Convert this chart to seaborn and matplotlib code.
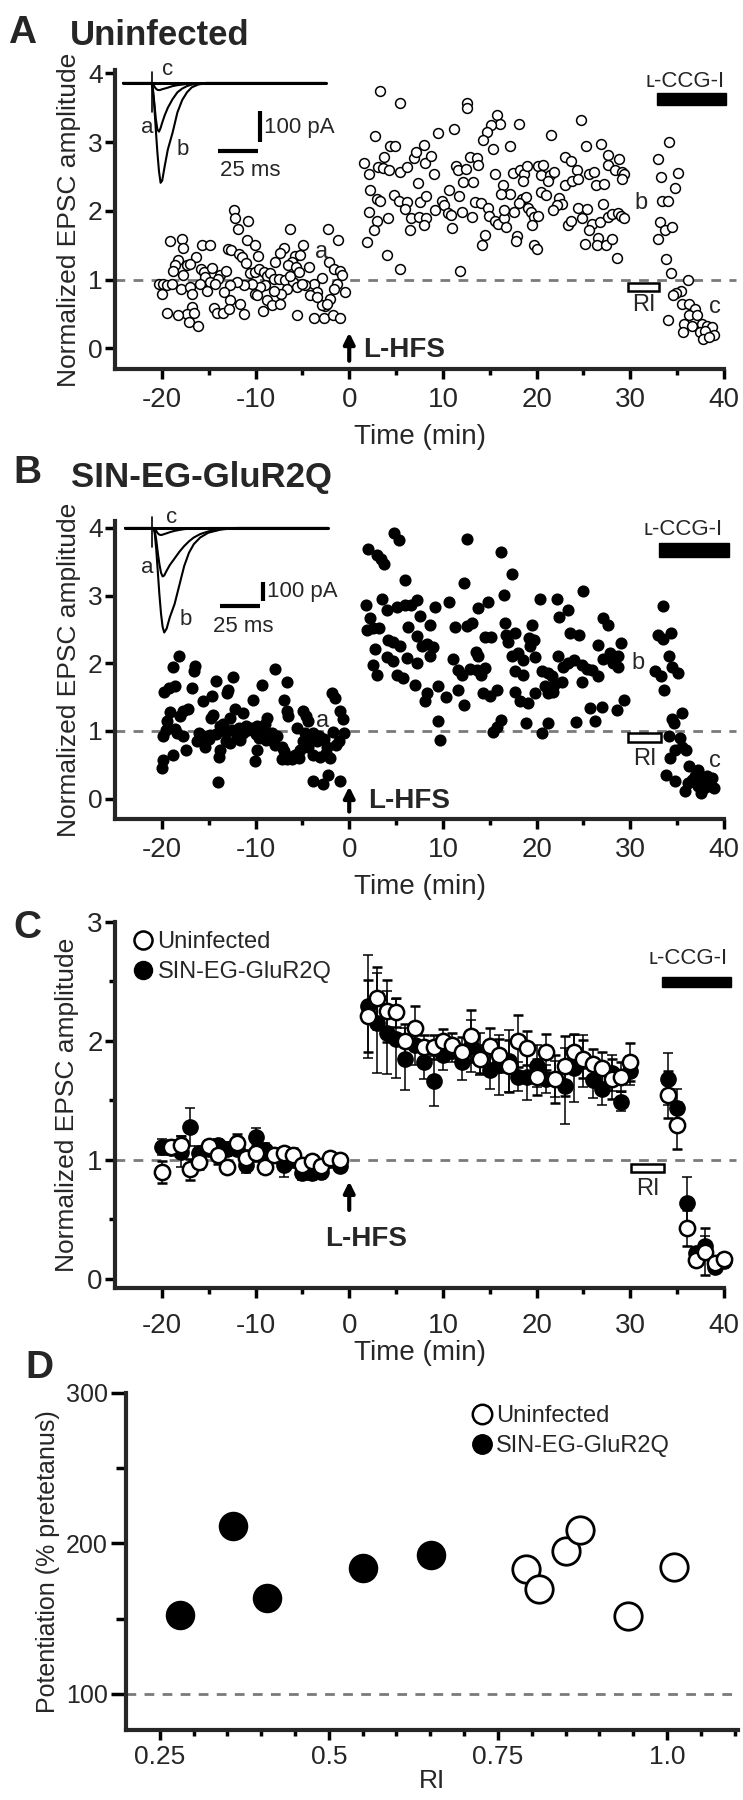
import numpy as np
import pandas as pd
import seaborn as sns
import matplotlib
matplotlib.use("Agg")
from matplotlib import pyplot as plt
from matplotlib.lines import Line2D
from matplotlib.patches import Rectangle
from matplotlib.ticker import FixedLocator

# ---------------------------------------------------------------------------
# Panel A: uninfected cell, normalized EPSC amplitude per sweep
a_time = [
    -19.17, -17.89, -17.74, -15.72, -14.90, -12.34, -12.23, -11.91, -10.81, -10.91,
    -10.02, -12.98, -12.62, -11.77, -11.41, -11.05, -9.77, -6.29, -2.30, -1.16,
    -4.93, -6.93, -7.42, -7.89, -5.82, -5.22, -6.11, -6.53, -5.65, -16.32,
    -18.31, -18.63, -18.81, -17.32, -16.96, -17.74, -15.82, -15.54, -15.43, -14.65,
    -13.76, -14.04, -13.12, -14.83, -15.89, -14.29, -15.18, -20.34, -19.88, -19.45,
    -18.92, -19.99, -17.96, -16.96, -16.78, -10.56, -10.02, -9.67, -9.06, -8.78,
    -8.49, -8.07, -7.53, -6.82, -6.00, -6.36, -5.40, -4.33, -2.91, -2.19,
    -1.59, -0.95, -0.77, -1.30, -1.66, -0.41, -2.02, -2.55, -2.91, -3.80,
    -3.44, -4.15, -4.69, -5.57, -5.04, -6.64, -7.28, -8.07, -8.96, -9.49,
    -10.02, -10.38, -11.27, -11.98, -12.69, -9.84, -8.78, -8.24, -7.35, -12.69,
    -11.62, -13.40, -14.47, -14.11, -13.47, -12.87, -11.27, -16.78, -17.32, -16.61,
    -19.45, -18.31, -17.14, -16.18, -9.20, -5.57, -3.80, -2.73, -1.73, -0.95,
    -3.44, -2.37,
    3.32, 5.39, 2.79, 9.48, 4.32, 4.92, 3.68, 1.61, 3.04, 3.61,
    4.21, 2.08, 5.46, 6.17, 6.88, 7.17, 7.95, 8.13, 8.73, 9.02,
    2.26, 2.97, 3.32, 4.75, 5.28, 6.17, 7.59, 8.23, 7.31, 2.08,
    2.97, 4.11, 5.99, 6.59, 7.41, 8.23, 7.95, 9.19, 2.61, 6.52,
    1.90, 4.03, 5.39,
    12.53, 12.60, 15.73, 16.09, 15.13, 14.66, 14.31, 15.38, 17.15, 18.11,
    11.21, 21.53, 24.70, 25.23, 26.87, 12.89, 13.60, 13.77, 11.36, 11.64,
    12.42, 15.55, 17.51, 18.22, 18.68, 18.93, 18.58, 20.18, 20.71, 20.46,
    21.42, 21.89, 21.25, 23.02, 23.66, 24.27, 25.59, 26.15, 27.65, 28.79,
    27.58, 28.36, 29.07, 29.36, 29.14, 12.17, 13.24, 10.64, 11.71, 16.44,
    17.15, 16.19, 18.47, 18.83, 20.46, 20.96, 22.38, 22.67, 22.13, 21.78,
    23.02, 23.74, 24.38, 26.30, 27.22, 9.93, 10.15, 10.57, 10.86, 12.07,
    13.06, 13.42, 14.06, 14.77, 14.91, 15.55, 15.91, 16.55, 16.69, 17.62,
    16.55, 18.11, 19.04, 19.40, 19.75, 19.47, 20.11, 23.38, 23.66, 24.38,
    24.80, 25.34, 25.94, 25.59, 26.76, 27.12, 27.65, 28.08, 28.65, 29.00,
    29.36, 11.00, 14.49, 14.20, 17.87, 17.76, 19.75, 20.00, 25.16, 26.51,
    26.40, 27.36, 28.08, 28.54, 11.82,
    34.12, 32.98, 33.27, 35.12, 34.76, 33.41, 33.98, 33.16, 33.70, 34.48,
    32.91, 33.77, 34.34, 36.19, 35.40, 34.83, 34.59, 35.55, 36.26, 36.90,
    36.26, 37.08, 34.05, 35.76, 36.54, 37.61, 38.14, 38.75, 35.65, 37.43,
    37.97, 38.96, 37.79, 38.39,
]
a_amp = [
    1.56, 1.59, 1.46, 1.51, 1.50, 2.01, 1.89, 1.73, 1.85, 1.57,
    1.50, 1.44, 1.43, 1.38, 1.33, 1.24, 1.35, 1.73, 1.73, 1.58,
    1.50, 1.46, 1.39, 1.26, 1.35, 1.36, 1.25, 1.21, 1.18, 1.33,
    1.28, 1.22, 1.13, 1.22, 1.23, 1.07, 1.16, 1.11, 1.04, 1.17,
    1.07, 1.01, 1.12, 0.96, 0.94, 0.94, 0.83, 0.94, 0.93, 0.92,
    0.94, 0.79, 0.87, 0.89, 0.79, 1.09, 1.11, 1.16, 1.11, 1.06,
    1.10, 1.01, 1.01, 0.99, 0.96, 1.06, 1.11, 1.18, 1.02, 1.25,
    1.16, 1.13, 1.07, 0.93, 0.86, 0.82, 0.72, 0.62, 0.63, 0.93,
    0.82, 0.77, 0.92, 0.89, 0.93, 0.87, 0.79, 0.84, 0.92, 0.89,
    0.79, 0.94, 0.92, 0.96, 0.92, 0.77, 0.70, 0.63, 0.65, 0.70,
    0.65, 0.82, 0.59, 0.52, 0.52, 0.58, 0.50, 0.60, 0.50, 0.52,
    0.52, 0.48, 0.38, 0.33, 0.55, 0.49, 0.44, 0.44, 0.49, 0.44,
    0.75, 0.64,
    3.75, 3.57, 3.09, 3.14, 2.94, 2.94, 2.79, 2.70, 2.64, 2.62,
    2.59, 2.54, 2.56, 2.64, 2.77, 2.86, 2.96, 2.69, 2.80, 2.54,
    2.30, 2.18, 2.15, 2.23, 2.14, 2.13, 2.13, 2.22, 2.41, 1.99,
    1.86, 1.89, 2.03, 1.90, 1.91, 1.89, 1.79, 2.01, 1.72, 1.72,
    1.55, 1.36, 1.16,
    3.57, 3.49, 3.40, 3.27, 3.25, 3.15, 3.03, 2.90, 2.94, 3.27,
    3.19, 3.11, 3.32, 2.94, 2.98, 2.78, 2.77, 2.67, 2.66, 2.60,
    2.61, 2.53, 2.55, 2.59, 2.53, 2.66, 2.44, 2.65, 2.67, 2.52,
    2.52, 2.57, 2.43, 2.78, 2.73, 2.60, 2.53, 2.56, 2.81, 2.76,
    2.67, 2.60, 2.56, 2.53, 2.47, 2.42, 2.42, 2.31, 2.22, 2.37,
    2.25, 2.25, 2.18, 2.20, 2.27, 2.23, 2.19, 2.10, 2.08, 2.02,
    2.37, 2.43, 2.46, 2.37, 2.39, 2.15, 2.08, 1.97, 1.94, 1.98,
    1.91, 2.13, 2.12, 2.04, 1.93, 1.85, 1.81, 1.89, 1.77, 1.99,
    2.02, 2.12, 2.04, 1.98, 1.91, 1.79, 1.93, 1.79, 1.86, 2.04,
    1.89, 2.03, 1.81, 1.72, 1.84, 2.10, 1.91, 1.96, 1.97, 1.93,
    1.89, 1.75, 1.65, 1.50, 1.63, 1.56, 1.50, 1.44, 1.52, 1.60,
    1.50, 1.50, 1.59, 1.31, 1.12,
    3.00, 2.75, 2.49, 2.55, 2.33, 2.14, 2.15, 1.84, 1.72, 1.77,
    1.59, 1.30, 1.10, 0.99, 0.83, 0.80, 0.78, 0.65, 0.65, 0.58,
    0.49, 0.48, 0.41, 0.36, 0.33, 0.36, 0.33, 0.31, 0.24, 0.24,
    0.26, 0.19, 0.14, 0.16,
]

# Panel B: SIN-EG-GluR2Q infected cell
b_time = [
    -18.13, -18.84, -16.46, -16.57, -19.77, -19.20, -18.59, -16.82, -14.22, -12.37,
    -12.90, -13.01, -14.68, -15.64, -17.24, -17.71, -18.06, -19.13, -19.48, -19.56,
    -19.91, -18.35, -18.59, -17.78, -17.42, -18.84, -19.91, -20.02, -13.97, -7.92,
    -6.68, -9.34, -10.23, -11.30, -12.19, -12.72, -13.44, -14.50, -14.79, -13.79,
    -16.00, -15.57, -14.86, -15.39, -13.79, -13.86, -12.72, -11.66, -11.30, -12.01,
    -11.02, -10.41, -9.88, -9.34, -8.81, -8.99, -8.28, -7.67, -7.21, -6.96,
    -6.68, -6.50, -5.61, -4.97, -4.61, -4.37, -4.72, -4.19, -3.83, -3.48,
    -4.37, -5.25, -5.79, -6.14, -6.68, -7.21, -9.88, -10.06, -3.83, -3.12,
    -2.05, -1.87, -1.52, -0.63, -0.98, -0.56, -1.06, -2.34, -2.23, -3.83,
    -2.84, -0.98, -1.70, -8.88, -8.10, -16.30, -15.00, -14.20, -13.20, -12.50,
    -11.80, -10.80, -10.00, -9.60, -8.50, -7.90, -7.00, -6.30, -5.40, -4.90,
    -3.20, -2.70, -2.50, -1.40, -13.20,
    4.78, 5.35, 2.04, 3.00, 3.35, 3.71, 5.95, 1.79, 3.46, 5.06,
    5.95, 6.56, 7.27, 9.15, 4.07, 2.22, 1.86, 2.50, 3.21, 6.31,
    7.55, 8.62, 4.17, 4.63, 5.42, 7.20, 7.73, 8.26, 8.97, 2.75,
    4.00, 4.71, 6.13, 7.20, 8.62, 2.57, 2.93, 5.06, 5.77, 7.02,
    8.26, 8.09, 9.51, 9.51, 9.69,
    12.53, 16.19, 17.40, 12.28, 16.55, 10.64, 13.77, 14.77, 20.36, 22.13,
    24.98, 22.38, 23.31, 27.12, 27.65, 11.28, 12.53, 13.06, 16.62, 19.54,
    14.49, 15.13, 16.69, 17.69, 16.91, 19.18, 19.75, 19.29, 23.56, 24.52,
    26.51, 29.00, 13.49, 13.70, 11.11, 11.64, 12.00, 12.89, 13.60, 14.49,
    14.06, 17.33, 18.04, 18.58, 19.82, 17.69, 18.58, 20.53, 21.25, 21.67,
    22.31, 22.85, 23.38, 24.02, 24.80, 25.34, 25.87, 26.58, 27.12, 27.83,
    28.18, 28.65, 28.72, 21.89, 22.67, 24.80, 21.25, 21.78, 20.89, 10.29,
    11.64, 12.28, 14.31, 15.02, 15.73, 17.69, 18.22, 19.11, 19.82, 25.69,
    26.94, 28.54, 29.36, 15.38, 15.73, 16.19, 18.83, 20.60, 21.25, 24.16,
    26.23,
    33.52, 32.91, 33.52, 34.34, 32.63, 33.27, 34.12, 34.48, 35.05, 33.63,
    35.55, 34.41, 34.69, 34.12, 35.30, 34.76, 35.48, 35.90, 34.23, 36.26,
    33.77, 34.76, 37.25, 36.90, 37.79, 38.14, 38.68, 36.19, 36.61, 35.83,
    37.25, 37.90, 38.50, 38.96, 37.54,
]
b_amp = [
    2.11, 1.94, 1.96, 1.88, 1.58, 1.63, 1.66, 1.63, 1.74, 1.80,
    1.61, 1.56, 1.51, 1.44, 1.32, 1.29, 1.22, 1.28, 1.14, 1.02,
    0.92, 0.97, 1.03, 0.92, 0.72, 0.65, 0.57, 0.45, 0.24, 1.91,
    1.73, 1.68, 1.46, 1.26, 1.32, 1.19, 1.11, 1.24, 1.19, 1.07,
    0.97, 0.92, 0.94, 0.77, 0.72, 0.62, 0.82, 0.87, 0.97, 0.92,
    1.08, 1.04, 1.08, 0.99, 1.19, 1.11, 0.97, 0.92, 0.77, 1.46,
    1.29, 1.22, 1.04, 1.29, 1.22, 1.14, 0.97, 0.90, 0.97, 0.85,
    0.77, 0.72, 0.65, 0.58, 0.58, 0.59, 0.72, 0.55, 0.65, 0.62,
    0.60, 1.56, 1.49, 1.17, 1.29, 0.97, 0.85, 0.77, 0.35, 0.26,
    0.21, 0.26, 0.99, 0.87, 0.85, 0.85, 0.88, 0.95, 0.98, 1.02,
    1.05, 1.02, 0.95, 0.90, 0.92, 0.80, 0.70, 0.62, 0.60, 0.85,
    0.92, 0.88, 0.68, 0.80, 0.85,
    3.93, 3.82, 3.68, 3.60, 3.54, 3.47, 3.23, 2.86, 2.95, 2.83,
    2.86, 2.86, 2.93, 2.83, 2.78, 2.67, 2.49, 2.52, 2.52, 2.53,
    2.69, 2.57, 2.35, 2.31, 2.25, 2.40, 2.26, 2.29, 2.24, 2.21,
    2.09, 2.03, 2.08, 2.00, 2.10, 1.98, 1.83, 1.83, 1.78, 1.68,
    1.56, 1.44, 1.66, 1.14, 0.87,
    3.83, 3.64, 3.32, 3.19, 3.01, 2.91, 2.81, 2.90, 2.95, 2.95,
    3.07, 2.68, 2.78, 2.67, 2.57, 2.54, 2.55, 2.59, 2.60, 2.57,
    2.39, 2.39, 2.41, 2.44, 2.31, 2.37, 2.34, 2.26, 2.44, 2.42,
    2.27, 2.30, 2.17, 2.10, 2.06, 1.90, 1.83, 1.91, 1.90, 1.93,
    1.83, 2.10, 2.15, 2.05, 2.09, 1.88, 1.83, 1.88, 1.85, 1.81,
    2.10, 1.95, 2.00, 2.05, 1.98, 1.91, 1.90, 1.81, 2.06, 2.15,
    2.00, 2.10, 1.95, 1.68, 1.72, 1.73, 1.56, 1.57, 1.66, 1.50,
    1.60, 1.39, 1.56, 1.51, 1.61, 1.58, 1.44, 1.41, 1.56, 1.34,
    1.36, 1.31, 1.46, 0.98, 1.06, 1.16, 1.12, 0.97, 1.12, 1.13,
    1.14,
    2.84, 2.42, 2.36, 2.44, 1.88, 1.81, 2.10, 1.95, 1.86, 1.61,
    1.26, 1.17, 1.12, 0.92, 0.90, 0.72, 0.77, 0.72, 0.60, 0.48,
    0.35, 0.26, 0.43, 0.33, 0.30, 0.33, 0.30, 0.23, 0.28, 0.11,
    0.18, 0.16, 0.18, 0.16, 0.08,
]

# Example EPSC traces (ms, pA) for the insets
trace_ms = [0, 17.8, 18.6, 19.5, 20.5, 21.5, 22.5, 23.5, 24.5, 26, 28, 31, 34, 37, 40, 43, 47, 52, 60, 70, 127]
a_trace_a = [0, 0, -15, -60, -115, -150, -157, -145, -128, -105, -80, -52, -30, -18, -10, -5, -2, 0, 0, 0, 0]
a_trace_b = [0, 0, -20, -70, -150, -225, -285, -322, -315, -270, -215, -160, -95, -55, -30, -14, -5, 0, 0, 0, 0]
a_trace_c = [0, 0, -3, -10, -18, -22, -23, -22, -20, -18, -15, -10, -7, -5, -3, -2, -1, 0, 0, 0, 0]
b_trace_a = [0, 0, -15, -60, -130, -190, -235, -255, -250, -225, -195, -160, -125, -95, -70, -50, -32, -18, -6, 0, 0]
b_trace_b = [0, 0, -30, -110, -230, -350, -450, -520, -550, -530, -470, -400, -300, -200, -130, -85, -50, -25, -8, 0, 0]
b_trace_c = [0, 0, -5, -15, -28, -35, -37, -35, -32, -28, -22, -15, -10, -6, -4, -2, -1, 0, 0, 0, 0]

# Panel C: group means +/- SEM, 1-min bins
c_time = [-20, -19, -18, -17, -16, -15, -14, -13, -12, -11, -10, -9, -8, -7, -6, -5, -4, -3, -2, -1,
          2, 3, 4, 5, 6, 7, 8, 9, 10, 11, 12, 13, 14, 15, 16, 17, 18, 19, 20, 21, 22, 23, 24, 25,
          26, 27, 28, 29, 30, 34, 35, 36, 37, 38, 39, 40]
c_uninf = [0.90, 1.11, 1.13, 0.92, 0.98, 1.12, 1.04, 0.94, 1.14, 1.02, 1.06, 0.94, 1.04, 1.06, 1.04,
           0.96, 0.99, 0.95, 1.02, 1.00,
           2.21, 2.36, 2.25, 2.24, 2.00, 2.11, 1.95, 1.95, 2.00, 1.97, 1.91, 2.04, 1.85, 1.96, 1.88,
           1.79, 2.00, 1.94, 1.70, 1.91, 1.68, 1.79, 1.91, 1.85, 1.81, 1.77, 1.68, 1.70, 1.82,
           1.55, 1.29, 0.43, 0.16, 0.23, 0.13, 0.17]
c_uninf_sem = [0.09, 0.06, 0.07, 0.09, 0.06, 0.05, 0.07, 0.05, 0.08, 0.06, 0.07, 0.05, 0.06, 0.05, 0.06,
               0.06, 0.05, 0.05, 0.05, 0.05,
               0.30, 0.26, 0.26, 0.12, 0.14, 0.18, 0.10, 0.10, 0.10, 0.10, 0.12, 0.22, 0.12, 0.15, 0.14,
               0.22, 0.22, 0.14, 0.15, 0.15, 0.20, 0.25, 0.15, 0.16, 0.12, 0.14, 0.17, 0.12, 0.16,
               0.20, 0.20, 0.15, 0.05, 0.20, 0.05, 0.05]
c_glur = [1.11, 1.10, 1.07, 1.28, 1.06, 1.09, 1.13, 1.09, 1.09, 0.96, 1.19, 1.08, 1.04, 0.96, 1.00,
          0.89, 0.89, 0.90, 1.00, 0.95,
          2.29, 2.15, 2.07, 2.02, 1.85, 1.97, 1.82, 1.66, 1.88, 1.92, 1.82, 1.96, 1.89, 1.76, 1.80,
          1.83, 1.70, 1.70, 1.79, 1.68, 1.68, 1.62, 1.77, 1.83, 1.67, 1.60, 1.73, 1.49, 1.75,
          1.68, 1.44, 0.64, 0.22, 0.28, 0.10, 0.15]
c_glur_sem = [0.07, 0.06, 0.13, 0.16, 0.06, 0.06, 0.05, 0.06, 0.05, 0.07, 0.08, 0.06, 0.06, 0.10, 0.06,
              0.06, 0.06, 0.06, 0.05, 0.05,
              0.43, 0.42, 0.35, 0.33, 0.26, 0.17, 0.14, 0.21, 0.12, 0.10, 0.15, 0.22, 0.18, 0.16, 0.25,
              0.26, 0.12, 0.20, 0.18, 0.12, 0.15, 0.32, 0.28, 0.22, 0.15, 0.14, 0.15, 0.08, 0.12,
              0.22, 0.16, 0.22, 0.05, 0.08, 0.05, 0.06]

# Panel D: potentiation vs rectification index
d_ri_glur = [0.28, 0.358, 0.409, 0.55, 0.651]
d_pot_glur = [152.5, 211.6, 163.6, 183.5, 192.4]
d_ri_uninf = [0.792, 0.811, 0.85, 0.871, 0.942, 1.01]
d_pot_uninf = [182.9, 169.6, 195.2, 209.0, 151.8, 184.6]

# ---------------------------------------------------------------------------
sns.set_style("ticks")
plt.rcParams['font.family'] = ['Liberation Sans', 'DejaVu Sans']
plt.rcParams['axes.unicode_minus'] = False

W, H = 743, 1800
fig = plt.figure(figsize=(W / 100, H / 100), dpi=100)
GREY = '#7a7a7a'


def px_axes(left, top, right, bottom):
    return fig.add_axes([left / W, 1 - bottom / H, (right - left) / W, (bottom - top) / H])


def style_axes(ax, ymajor, yminor=()):
    sns.despine(ax=ax)
    for s in ('left', 'bottom'):
        ax.spines[s].set_linewidth(3)
    ax.yaxis.set_major_locator(FixedLocator(ymajor))
    ax.yaxis.set_minor_locator(FixedLocator(list(yminor)))
    ax.tick_params(which='major', length=7, width=2.5, color='black')
    ax.tick_params(which='minor', length=4, width=2.5, color='black')
    ax.tick_params(axis='x', which='major', pad=6)
    ax.tick_params(axis='y', which='major', pad=2)
    ax.set_facecolor('none')


def time_axes(ax, ylim, ymajor, yminor=(), ytick_fs=19):
    ax.set_xlim(-25, 40)
    ax.set_ylim(*ylim)
    ax.xaxis.set_major_locator(FixedLocator([-20, -10, 0, 10, 20, 30, 40]))
    ax.xaxis.set_minor_locator(FixedLocator([-15, -5, 5, 15, 25, 35]))
    style_axes(ax, ymajor, yminor)
    ax.tick_params(axis='x', labelsize=20)
    ax.tick_params(axis='y', labelsize=ytick_fs)
    ax.axhline(1.0, xmin=0, xmax=1.02, color=GREY, lw=2, ls=(0, (3.5, 3)), zorder=1, clip_on=False)


def drug_bar(ax, x0, x1, y0, y1, ytext, xtext):
    ax.add_patch(Rectangle((x0, y0), x1 - x0, y1 - y0, color='black', clip_on=False, zorder=4))
    ax.text(xtext, ytext, 'ʟ-CCG-I', fontsize=16, ha='center', va='center')


def ri_box(ax, x0, x1, y0, y1, ytext):
    ax.add_patch(Rectangle((x0, y0), x1 - x0, y1 - y0, fill=False, ec='black', lw=1.8, zorder=4))
    ax.text((x0 + x1) / 2, ytext, 'RI', fontsize=17, ha='center', va='center')


def hfs_arrow(ax, y_head, y_tail, tx, ty):
    ax.annotate('', xy=(0, y_head), xytext=(0, y_tail),
                arrowprops=dict(arrowstyle='-|>', lw=3, color='black', mutation_scale=16,
                                shrinkA=0, shrinkB=0))
    ax.text(tx, ty, 'L-HFS', fontsize=20, fontweight='bold', ha='left', va='center')


def epsc_scatter(ax, t, v, filled, s):
    df = pd.DataFrame({'time': t, 'amp': v})
    sns.scatterplot(data=df, x='time', y='amp', ax=ax, s=s,
                    color='black' if filled else 'white', edgecolor='black',
                    linewidth=1.1, zorder=3, legend=False, clip_on=False)


def trace_inset(left, top, right, bottom, x0, y0, px_ms, px_pa):
    ax = px_axes(left, top, right, bottom)
    ax.set_xlim((left - x0) / px_ms, (right - x0) / px_ms)
    ax.set_ylim((y0 - bottom) / px_pa, (y0 - top) / px_pa)
    ax.axis('off')
    return ax


# ---------------------------------------------------------------- panel A
axA = px_axes(115, 70, 724, 369)
epsc_scatter(axA, a_time, a_amp, False, 50)
time_axes(axA, (-0.3, 4.05), [0, 1, 2, 3, 4])
axA.set_xlabel('Time (min)', fontsize=20, labelpad=8)
axA.set_ylabel('Normalized EPSC amplitude', fontsize=19, labelpad=5)
drug_bar(axA, 32.9, 40.2, 3.54, 3.71, 3.88, 35.8)
ri_box(axA, 29.75, 33.05, 0.84, 0.95, 0.63)
hfs_arrow(axA, 0.23, -0.18, 1.5, -0.03)
axA.text(-3.0, 1.40, 'a', fontsize=17, ha='center', va='center')
axA.text(31.1, 2.11, 'b', fontsize=17, ha='center', va='center')
axA.text(39.0, 0.60, 'c', fontsize=17, ha='center', va='center')
fig.text(8 / W, 1 - 43 / H, 'A', fontsize=28, fontweight='bold', va='baseline')
fig.text(70 / W, 1 - 45 / H, 'Uninfected', fontsize=25, fontweight='bold', va='baseline')

insA = trace_inset(120, 60, 335, 195, 123, 83, 1.6, 0.31)
for tr in (a_trace_c, a_trace_a, a_trace_b):
    insA.plot(trace_ms, tr, color='black', lw=1.5)
insA.plot(trace_ms[:2] + trace_ms[-3:], [0, 0, 0, 0, 0], color='black', lw=2.2)
insA.plot([18, 18], [35, -95], color='black', lw=1.2)
insA.plot([59.4, 84.4], [-219, -219], color='black', lw=3, solid_capstyle='butt')
insA.plot([85.6, 85.6], [-90, -190], color='black', lw=3, solid_capstyle='butt')
insA.text(88, -142, '100 pA', fontsize=16, ha='left', va='center')
insA.text(79.4, -283, '25 ms', fontsize=16, ha='center', va='center')
insA.text(15, -145, 'a', fontsize=16, ha='center', va='center')
insA.text(37.5, -213, 'b', fontsize=16, ha='center', va='center')
insA.text(28, 42, 'c', fontsize=16, ha='center', va='center')

# ---------------------------------------------------------------- panel B
axB = px_axes(115, 521, 724, 819)
epsc_scatter(axB, b_time, b_amp, True, 58)
time_axes(axB, (-0.3, 4.1), [0, 1, 2, 3, 4])
axB.set_xlabel('Time (min)', fontsize=20, labelpad=8)
axB.set_ylabel('Normalized EPSC amplitude', fontsize=19, labelpad=5)
drug_bar(axB, 33.1, 40.5, 3.57, 3.78, 3.97, 35.6)
ri_box(axB, 29.8, 33.27, 0.84, 0.97, 0.58)
hfs_arrow(axB, 0.18, -0.19, 2.0, -0.04)
axB.text(-2.8, 1.14, 'a', fontsize=17, ha='center', va='center')
axB.text(30.8, 2.0, 'b', fontsize=17, ha='center', va='center')
axB.text(39.0, 0.55, 'c', fontsize=17, ha='center', va='center')
fig.text(13 / W, 1 - 483 / H, 'B', fontsize=28, fontweight='bold', va='baseline')
fig.text(71 / W, 1 - 487 / H, 'SIN-EG-GluR2Q', fontsize=25, fontweight='bold', va='baseline')

insB = trace_inset(120, 505, 335, 645, 125, 528, 1.6, 0.19)
for tr in (b_trace_c, b_trace_a, b_trace_b):
    insB.plot(trace_ms, tr, color='black', lw=1.5)
insB.plot(trace_ms[:2] + trace_ms[-2:], [0, 0, 0, 0], color='black', lw=2.2)
insB.plot([17, 17], [58, -100], color='black', lw=1.2)
insB.plot([59.4, 84.4], [-410, -410], color='black', lw=3, solid_capstyle='butt')
insB.plot([86, 86], [-284, -384], color='black', lw=3, solid_capstyle='butt')
insB.text(88.5, -332, '100 pA', fontsize=16, ha='left', va='center')
insB.text(73.8, -521, '25 ms', fontsize=16, ha='center', va='center')
insB.text(13.8, -210, 'a', fontsize=16, ha='center', va='center')
insB.text(38, -484, 'b', fontsize=16, ha='center', va='center')
insB.text(29.4, 53, 'c', fontsize=16, ha='center', va='center')

# ---------------------------------------------------------------- panel C
axC = px_axes(115, 922, 724, 1288)
axC.errorbar(c_time, c_glur, yerr=c_glur_sem, fmt='o', ms=11, mfc='black', mec='black',
             ecolor='black', elinewidth=1.1, capsize=3.5, capthick=1.1, zorder=3, clip_on=False)
axC.errorbar(c_time, c_uninf, yerr=c_uninf_sem, fmt='o', ms=11, mfc='white', mec='black', mew=1.8,
             ecolor='black', elinewidth=1.1, capsize=3.5, capthick=1.1, zorder=4, clip_on=False)
time_axes(axC, (-0.076, 3.0), [0, 1, 2, 3], [0.5, 1.5, 2.5], ytick_fs=20)
axC.tick_params(axis='x', which='major', pad=11)
axC.set_xlabel('Time (min)', fontsize=20, labelpad=1)
axC.set_ylabel('Normalized EPSC amplitude', fontsize=19, labelpad=6)
drug_bar(axC, 33.4, 40.7, 2.45, 2.54, 2.69, 36.2)
ri_box(axC, 30.1, 33.6, 0.90, 0.97, 0.76)
axC.annotate('', xy=(0, 0.82), xytext=(0, 0.58),
             arrowprops=dict(arrowstyle='-|>', lw=3, color='black', mutation_scale=16,
                             shrinkA=0, shrinkB=0))
axC.text(1.8, 0.34, 'L-HFS', fontsize=20, fontweight='bold', ha='center', va='center')
handles = [Line2D([], [], ls='none', marker='o', ms=13, mfc='white', mec='black', mew=1.8),
           Line2D([], [], ls='none', marker='o', ms=13, mfc='black', mec='black')]
axC.legend(handles, ['Uninfected', 'SIN-EG-GluR2Q'], loc='upper left', bbox_to_anchor=(0.035, 0.975),
           frameon=False, fontsize=17, handlelength=0.6, handletextpad=0.3, labelspacing=0.35,
           borderaxespad=0, borderpad=0)
fig.text(13 / W, 1 - 938 / H, 'C', fontsize=28, fontweight='bold', va='baseline')

# ---------------------------------------------------------------- panel D
axD = px_axes(126, 1393, 738, 1730)
sns.scatterplot(x=d_ri_glur, y=d_pot_glur, ax=axD, s=390, color='black', edgecolor='black',
                linewidth=1.5, zorder=3, legend=False)
sns.scatterplot(x=d_ri_uninf, y=d_pot_uninf, ax=axD, s=390, color='white', edgecolor='black',
                linewidth=2.0, zorder=3, legend=False)
axD.set_xlim(0.2, 1.105)
axD.set_ylim(76, 300)
axD.xaxis.set_major_locator(FixedLocator([0.25, 0.5, 0.75, 1.0]))
axD.xaxis.set_minor_locator(FixedLocator([0.3, 0.35, 0.4, 0.45, 0.55, 0.6, 0.65, 0.7, 0.8, 0.85,
                                          0.9, 0.95, 1.05, 1.1]))
axD.set_xticklabels(['0.25', '0.5', '0.75', '1.0'])
style_axes(axD, [100, 200, 300], [150, 250])
axD.tick_params(axis='y', which='major', length=11)
axD.tick_params(axis='y', which='minor', length=7)
axD.tick_params(axis='x', which='major', pad=4)
axD.tick_params(axis='x', labelsize=19)
axD.tick_params(axis='y', labelsize=18)
axD.axhline(100, color=GREY, lw=2, ls=(0, (3.5, 3)), zorder=1)
axD.set_xlabel('RI', fontsize=19, labelpad=0)
axD.set_ylabel('Potentiation (% pretetanus)', fontsize=18, labelpad=4)
handles = [Line2D([], [], ls='none', marker='o', ms=14, mfc='white', mec='black', mew=1.8),
           Line2D([], [], ls='none', marker='o', ms=14, mfc='black', mec='black')]
axD.legend(handles, ['Uninfected', 'SIN-EG-GluR2Q'], loc='upper left', bbox_to_anchor=(0.57, 0.965),
           frameon=False, fontsize=17, handlelength=0.6, handletextpad=0.3, labelspacing=0.35,
           borderaxespad=0, borderpad=0)
fig.text(25 / W, 1 - 1378 / H, 'D', fontsize=28, fontweight='bold', va='baseline')

fig.savefig('out.png', dpi=100)
